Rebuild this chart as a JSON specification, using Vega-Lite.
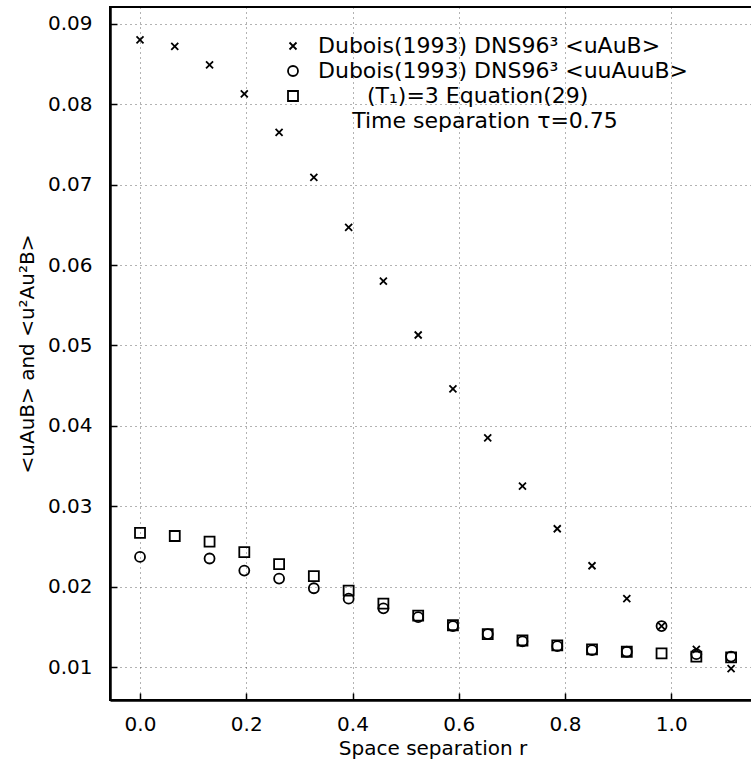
{
  "$schema": "https://vega.github.io/schema/vega-lite/v6.json",
  "width": 645,
  "height": 693,
  "autosize": {"type": "none"},
  "padding": {"left": 110, "top": 7, "right": -4, "bottom": 61},
  "background": "white",
  "config": {
    "view": {"stroke": "black", "strokeWidth": 2},
    "font": "DejaVu Sans",
    "axis": {
      "labelFont": "DejaVu Sans",
      "labelFontSize": 20,
      "labelColor": "black",
      "titleFont": "DejaVu Sans",
      "titleFontSize": 20,
      "titleFontWeight": "normal",
      "titleColor": "black",
      "domainColor": "black",
      "domainWidth": 2.5,
      "tickColor": "black",
      "tickWidth": 1.5,
      "tickSize": -7,
      "grid": true,
      "gridColor": "black",
      "gridDash": [1, 4],
      "gridOpacity": 0.6,
      "gridWidth": 1
    }
  },
  "data": {
    "values": [
      {"r": 0.0, "s": "x", "v": 0.0880},
      {"r": 0.0654, "s": "x", "v": 0.0872},
      {"r": 0.1309, "s": "x", "v": 0.0849},
      {"r": 0.1963, "s": "x", "v": 0.0813},
      {"r": 0.2618, "s": "x", "v": 0.0765},
      {"r": 0.3272, "s": "x", "v": 0.0709},
      {"r": 0.3927, "s": "x", "v": 0.0647},
      {"r": 0.4581, "s": "x", "v": 0.0580},
      {"r": 0.5236, "s": "x", "v": 0.0513},
      {"r": 0.5890, "s": "x", "v": 0.0446},
      {"r": 0.6545, "s": "x", "v": 0.0385},
      {"r": 0.7199, "s": "x", "v": 0.0325},
      {"r": 0.7854, "s": "x", "v": 0.0272},
      {"r": 0.8508, "s": "x", "v": 0.0226},
      {"r": 0.9163, "s": "x", "v": 0.0185},
      {"r": 0.9817, "s": "x", "v": 0.0151},
      {"r": 1.0472, "s": "x", "v": 0.0122},
      {"r": 1.1126, "s": "x", "v": 0.0098},
      {"r": 0.0, "s": "o", "v": 0.0237},
      {"r": 0.1309, "s": "o", "v": 0.0235},
      {"r": 0.1963, "s": "o", "v": 0.0220},
      {"r": 0.2618, "s": "o", "v": 0.0210},
      {"r": 0.3272, "s": "o", "v": 0.0198},
      {"r": 0.3927, "s": "o", "v": 0.0185},
      {"r": 0.4581, "s": "o", "v": 0.0173},
      {"r": 0.5236, "s": "o", "v": 0.0162},
      {"r": 0.5890, "s": "o", "v": 0.0151},
      {"r": 0.6545, "s": "o", "v": 0.0141},
      {"r": 0.7199, "s": "o", "v": 0.0132},
      {"r": 0.7854, "s": "o", "v": 0.0126},
      {"r": 0.8508, "s": "o", "v": 0.0121},
      {"r": 0.9163, "s": "o", "v": 0.0119},
      {"r": 0.9817, "s": "o", "v": 0.0151},
      {"r": 1.0472, "s": "o", "v": 0.0116},
      {"r": 1.1126, "s": "o", "v": 0.0113},
      {"r": 0.0, "s": "q", "v": 0.0267},
      {"r": 0.0654, "s": "q", "v": 0.0263},
      {"r": 0.1309, "s": "q", "v": 0.0256},
      {"r": 0.1963, "s": "q", "v": 0.0243},
      {"r": 0.2618, "s": "q", "v": 0.0228},
      {"r": 0.3272, "s": "q", "v": 0.0213},
      {"r": 0.3927, "s": "q", "v": 0.0195},
      {"r": 0.4581, "s": "q", "v": 0.0179},
      {"r": 0.5236, "s": "q", "v": 0.0164},
      {"r": 0.5890, "s": "q", "v": 0.0152},
      {"r": 0.6545, "s": "q", "v": 0.0141},
      {"r": 0.7199, "s": "q", "v": 0.0133},
      {"r": 0.7854, "s": "q", "v": 0.0127},
      {"r": 0.8508, "s": "q", "v": 0.0122},
      {"r": 0.9163, "s": "q", "v": 0.0119},
      {"r": 0.9817, "s": "q", "v": 0.0117},
      {"r": 1.0472, "s": "q", "v": 0.0113},
      {"r": 1.1126, "s": "q", "v": 0.0112}
    ]
  },
  "mark": {"type": "point", "filled": false, "strokeWidth": 1.8, "color": "black", "size": 100, "opacity": 1},
  "encoding": {
    "x": {
      "field": "r",
      "type": "quantitative",
      "scale": {"domain": [-0.0565, 1.1576], "nice": false, "zero": false},
      "axis": {
        "values": [0, 0.2, 0.4, 0.6, 0.8, 1.0],
        "format": ".1f",
        "labelPadding": 21,
        "title": "Space separation r",
        "titlePadding": 4
      }
    },
    "y": {
      "field": "v",
      "type": "quantitative",
      "scale": {"domain": [0.0059, 0.0921], "nice": false, "zero": false},
      "axis": {
        "values": [0.01, 0.02, 0.03, 0.04, 0.05, 0.06, 0.07, 0.08, 0.09],
        "format": ".2f",
        "labelPadding": 25,
        "title": "<uAuB> and <u²Au²B>",
        "titlePadding": 10
      }
    },
    "shape": {
      "field": "s",
      "type": "nominal",
      "scale": {
        "domain": ["x", "o", "q"],
        "range": ["M-0.7,-0.7L0.7,0.7M0.7,-0.7L-0.7,0.7", "circle", "square"]
      },
      "legend": {
        "orient": "none",
        "legendX": 172,
        "legendY": 28,
        "padding": 0,
        "title": "Time separation τ=0.75",
        "titleOrient": "bottom",
        "titleAnchor": "middle",
        "titleFont": "DejaVu Sans",
        "titleFontSize": 22,
        "titleFontWeight": "normal",
        "titleColor": "black",
        "titlePadding": 4,
        "titleLimit": 800,
        "labelFont": "DejaVu Sans",
        "labelFontSize": 22,
        "labelColor": "black",
        "labelOffset": 14,
        "labelLimit": 800,
        "rowPadding": 3,
        "symbolSize": 100,
        "symbolStrokeWidth": 1.8,
        "symbolStrokeColor": "black",
        "symbolFillColor": "transparent",
        "labelExpr": "datum.label == 'x' ? 'Dubois(1993) DNS96³ <uAuB>' : datum.label == 'o' ? 'Dubois(1993) DNS96³ <uuAuuB>' : '\u200b\u00a0\u00a0\u00a0\u00a0\u00a0\u00a0\u00a0(T₁)=3 Equation(29)'"
      }
    }
  }
}
